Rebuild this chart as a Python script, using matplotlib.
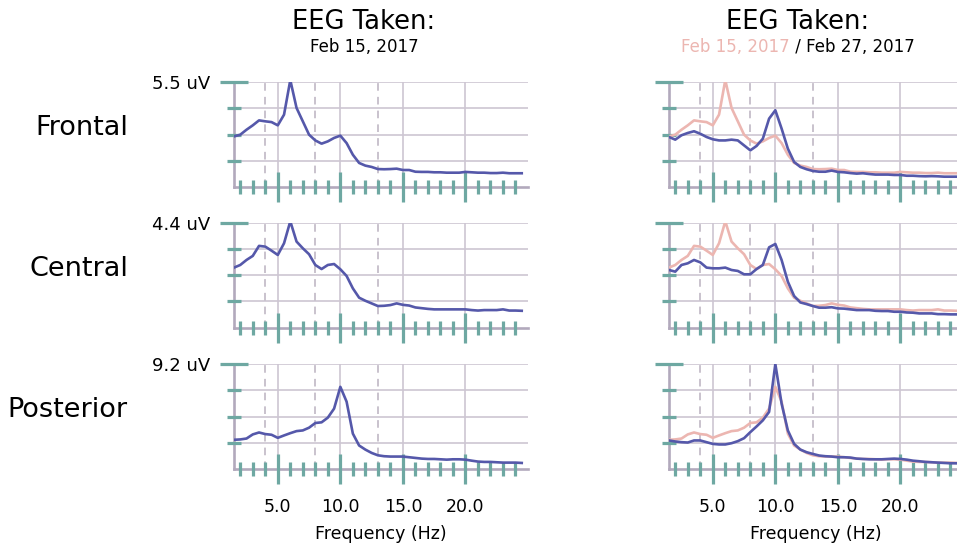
import matplotlib
matplotlib.use("Agg")
import matplotlib.pyplot as plt
from matplotlib.ticker import FixedLocator, NullFormatter

# frequency bins (Hz)
freqs = [1.5, 2.0, 2.5, 3.0, 3.5, 4.0, 4.5, 5.0, 5.5, 6.0, 6.5, 7.0, 7.5, 8.0,
         8.5, 9.0, 9.5, 10.0, 10.5, 11.0, 11.5, 12.0, 12.5, 13.0, 13.5, 14.0,
         14.5, 15.0, 15.5, 16.0, 16.5, 17.0, 17.5, 18.0, 18.5, 19.0, 19.5, 20.0,
         20.5, 21.0, 21.5, 22.0, 22.5, 23.0, 23.5, 24.0, 24.5]

frontal_feb15 = [2.65, 2.74, 3.00, 3.23, 3.49, 3.44, 3.40, 3.23, 3.79, 5.60,
                 4.14, 3.44, 2.74, 2.44, 2.27, 2.39, 2.57, 2.69, 2.30, 1.69,
                 1.26, 1.12, 1.05, 0.94, 0.93, 0.94, 0.96, 0.89, 0.89, 0.80,
                 0.79, 0.79, 0.77, 0.77, 0.75, 0.75, 0.75, 0.79, 0.77, 0.75,
                 0.75, 0.73, 0.73, 0.75, 0.72, 0.72, 0.72]
frontal_feb27 = [2.62, 2.48, 2.71, 2.83, 2.92, 2.79, 2.62, 2.50, 2.44, 2.44,
                 2.48, 2.44, 2.18, 1.92, 2.15, 2.53, 3.58, 4.02, 3.06, 2.01,
                 1.31, 1.05, 0.93, 0.84, 0.80, 0.80, 0.86, 0.79, 0.77, 0.73,
                 0.70, 0.72, 0.68, 0.65, 0.65, 0.65, 0.63, 0.63, 0.59, 0.59,
                 0.57, 0.56, 0.57, 0.56, 0.54, 0.54, 0.54]

central_feb15 = [2.51, 2.62, 2.83, 3.00, 3.42, 3.39, 3.22, 3.04, 3.53, 4.45,
                 3.60, 3.32, 3.07, 2.62, 2.45, 2.62, 2.66, 2.44, 2.16, 1.64,
                 1.25, 1.12, 1.01, 0.90, 0.91, 0.94, 1.01, 0.95, 0.92, 0.84,
                 0.81, 0.78, 0.76, 0.76, 0.76, 0.76, 0.76, 0.76, 0.73, 0.71,
                 0.73, 0.73, 0.73, 0.76, 0.71, 0.71, 0.70]
central_feb27 = [2.41, 2.34, 2.62, 2.69, 2.83, 2.73, 2.51, 2.48, 2.48, 2.51,
                 2.41, 2.37, 2.23, 2.23, 2.45, 2.62, 3.36, 3.50, 2.83, 1.92,
                 1.32, 1.05, 0.98, 0.90, 0.83, 0.83, 0.85, 0.80, 0.79, 0.76,
                 0.73, 0.73, 0.73, 0.70, 0.69, 0.69, 0.66, 0.66, 0.63, 0.62,
                 0.59, 0.59, 0.59, 0.56, 0.56, 0.55, 0.55]

posterior_feb15 = [2.56, 2.59, 2.67, 3.03, 3.20, 3.06, 3.00, 2.73, 2.94, 3.14,
                   3.32, 3.38, 3.62, 4.03, 4.09, 4.50, 5.29, 7.20, 5.90, 3.10,
                   2.06, 1.70, 1.41, 1.20, 1.12, 1.09, 1.09, 1.09, 1.03, 0.97,
                   0.91, 0.88, 0.88, 0.85, 0.82, 0.85, 0.85, 0.82, 0.73, 0.65,
                   0.62, 0.62, 0.59, 0.56, 0.56, 0.56, 0.53]
posterior_feb27 = [2.50, 2.41, 2.35, 2.32, 2.50, 2.50, 2.35, 2.20, 2.15, 2.15,
                   2.26, 2.44, 2.70, 3.23, 3.73, 4.26, 5.00, 9.20, 5.73, 3.38,
                   2.20, 1.70, 1.47, 1.32, 1.18, 1.12, 1.09, 1.03, 1.03, 1.00,
                   0.91, 0.88, 0.85, 0.85, 0.85, 0.88, 0.91, 0.88, 0.82, 0.73,
                   0.68, 0.62, 0.59, 0.56, 0.53, 0.50, 0.50]

regions = ["Frontal", "Central", "Posterior"]
ymax_vals = [5.5, 4.4, 9.2]
feb15 = [frontal_feb15, central_feb15, posterior_feb15]
feb27 = [frontal_feb27, central_feb27, posterior_feb27]
band_edges = [4, 8, 13]
major_x = [5, 10, 15, 20]
minor_x = list(range(2, 25))

BLUE = "#5558aa"
PINK = "#ecb6b1"
TEAL = "#6ea8a2"
SPINE = "#b2a9bc"
GRID = "#cdc6d2"

W, H = 957, 548
fig = plt.figure(figsize=(W / 100, H / 100), dpi=100)


def fx(px):
    return px / W


def fy(py):
    return 1 - py / H


col_left = [234, 669]
row_top = [82, 222.5, 364]
ax_w, ax_h = 294, 105

for r in range(3):
    ymax = ymax_vals[r]
    yfr = [ymax * 0.25, ymax * 0.5, ymax * 0.75]
    for c in range(2):
        ax = fig.add_axes([fx(col_left[c]), fy(row_top[r] + ax_h), ax_w / W, ax_h / H])
        ax.set_xlim(1.5, 25)
        ax.set_ylim(0, ymax)

        for s in ["top", "right"]:
            ax.spines[s].set_visible(False)
        for s in ["left", "bottom"]:
            ax.spines[s].set_color(SPINE)
            ax.spines[s].set_linewidth(1.9)
            ax.spines[s].set_zorder(0.9)

        ax.xaxis.set_major_locator(FixedLocator(major_x))
        ax.xaxis.set_minor_locator(FixedLocator(minor_x))
        ax.yaxis.set_major_locator(FixedLocator([ymax]))
        ax.yaxis.set_minor_locator(FixedLocator(yfr))
        ax.yaxis.set_major_formatter(NullFormatter())

        ax.tick_params(axis="both", which="both", direction="inout", color=TEAL, width=2.3)
        ax.tick_params(axis="x", which="major", length=21, pad=10.5, labelsize=12.5)
        ax.tick_params(axis="x", which="minor", length=9.8)
        ax.tick_params(axis="y", which="major", length=19.5)
        ax.tick_params(axis="y", which="minor", length=9.8)

        # grid drawn by hand, below the data
        for xv in major_x:
            ax.axvline(xv, color=GRID, lw=1.2, zorder=0.5)
        for yv in yfr + [ymax]:
            ax.axhline(yv, color=GRID, lw=1.2, zorder=0.5)
        for b in band_edges:
            ax.axvline(b, color="#bab2c0", lw=1.1, ls=(0, (5, 4)), zorder=0.6)

        if r == 2:
            ax.set_xticklabels(["5.0", "10.0", "15.0", "20.0"])
            fig.text(fx(col_left[c] + ax_w / 2), fy(539), "Frequency (Hz)",
                     ha="center", va="baseline", fontsize=12.5)
        else:
            ax.set_xticklabels([])

        if c == 1:
            ax.plot(freqs, feb15[r], color=PINK, lw=1.9, zorder=3)
            ax.plot(freqs, feb27[r], color=BLUE, lw=1.9, zorder=4)
        else:
            ax.plot(freqs, feb15[r], color=BLUE, lw=1.9, zorder=4)

    fig.text(fx(210), fy(row_top[r] + 7.3), f"{ymax} uV", ha="right", va="baseline",
             fontsize=13)
    fig.text(fx(128), fy(row_top[r] + 53), regions[r], ha="right", va="baseline",
             fontsize=19.5)

# titles
fig.text(fx(364), fy(29), "EEG Taken:", ha="center", va="baseline", fontsize=18.5)
fig.text(fx(364), fy(52.5), "Feb 15, 2017", ha="center", va="baseline", fontsize=12)
fig.text(fx(798), fy(29), "EEG Taken:", ha="center", va="baseline", fontsize=18.5)

t1 = fig.text(0, fy(52.5), "Feb 15, 2017", color=PINK, ha="left", va="baseline",
              fontsize=12)
t2 = fig.text(0, fy(52.5), " / Feb 27, 2017", ha="left", va="baseline", fontsize=12)
fig.canvas.draw()
rend = fig.canvas.get_renderer()
w1 = t1.get_window_extent(rend).width
w2 = t2.get_window_extent(rend).width
x0 = 798 - (w1 + w2) / 2
t1.set_x(fx(x0))
t2.set_x(fx(x0 + w1))

fig.savefig("out.png", dpi=100)
